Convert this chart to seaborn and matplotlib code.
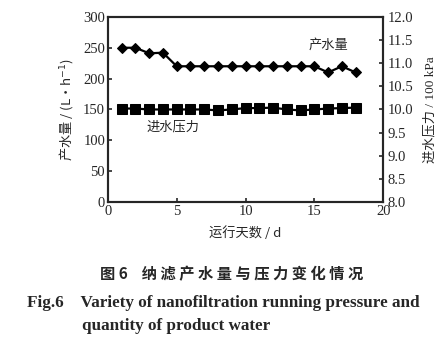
#纳滤产水量与压力变化情况

import numpy as np
import pandas as pd
import matplotlib
matplotlib.use('Agg')
import matplotlib.pyplot as plt
import seaborn as sns

dias = list(range(1, 19))
produto = [250, 250, 241, 242, 220, 220, 220, 220, 220, 220, 220, 220, 220, 220, 220, 210, 220, 210]
pressao = [10.02, 10.02, 10.0, 10.0, 10.0, 10.0, 10.0, 9.98, 10.0, 10.03, 10.03, 10.04, 10.0, 9.98, 10.0, 10.02, 10.03, 10.04]

base = pd.DataFrame({'dia': dias, 'produto': produto, 'pressao': pressao})

sns.set_style('ticks')
plt.rcParams['font.family'] = ['Liberation Serif', 'Noto Sans CJK SC']
cjk = ['Noto Sans CJK SC', 'DejaVu Sans']
serif = ['Liberation Serif', 'Noto Sans CJK SC']

fig = plt.figure(figsize=(4.44, 3.52), dpi=100)
ax = fig.add_axes([0.243, 0.426, 0.62, 0.526])

sns.lineplot(data=base, x='dia', y='produto', ax=ax, color='black', marker='D',
             markersize=5, markeredgecolor='black', linewidth=1.6)
ax.set_xlim(0, 20)
ax.set_ylim(0, 300)
ax.set_xticks([0, 5, 10, 15, 20])
ax.set_yticks(range(0, 301, 50))
ax.set_xlabel('运行天数 / d', family=cjk, fontsize=9.5, labelpad=6)
ax.set_ylabel('产水量 / (L·h$^{-1}$)', family=cjk, fontsize=9.5, labelpad=6)

ax2 = ax.twinx()
sns.lineplot(data=base, x='dia', y='pressao', ax=ax2, color='black', marker='s',
             markersize=7.5, markeredgecolor='black', linewidth=1.6)
ax2.set_ylim(8, 12)
ax2.set_yticks(np.arange(8, 12.01, 0.5))
ax2.set_yticklabels([f'{v:.1f}' for v in np.arange(8, 12.01, 0.5)])
ax2.set_ylabel('进水压力 / 100 kPa', family=serif, fontsize=9.5, labelpad=8, rotation=90)

for a in (ax, ax2):
    a.tick_params(direction='in', labelsize=10.5, length=3, width=1.2, pad=2)
    for s in a.spines.values():
        s.set_linewidth(1.5)
ax2.tick_params(axis='y', pad=3)

ax.text(14.6, 248, '产水量', family=cjk, fontsize=9.5)
ax.text(2.8, 116, '进水压力', family=cjk, fontsize=9.5)

fig.text(0.225, 0.207, '图 6    纳 滤 产 水 量 与 压 力 变 化 情 况', family=cjk, fontsize=11,
         fontweight='bold', ha='left', va='baseline')
fig.text(0.06, 0.128, 'Fig.6    Variety of nanofiltration running pressure and',
         family=['Liberation Serif'], fontsize=12.3, fontweight='bold', va='baseline')
fig.text(0.185, 0.063, 'quantity of product water',
         family=['Liberation Serif'], fontsize=12.3, fontweight='bold', va='baseline')

plt.savefig('out.png', dpi=100)
